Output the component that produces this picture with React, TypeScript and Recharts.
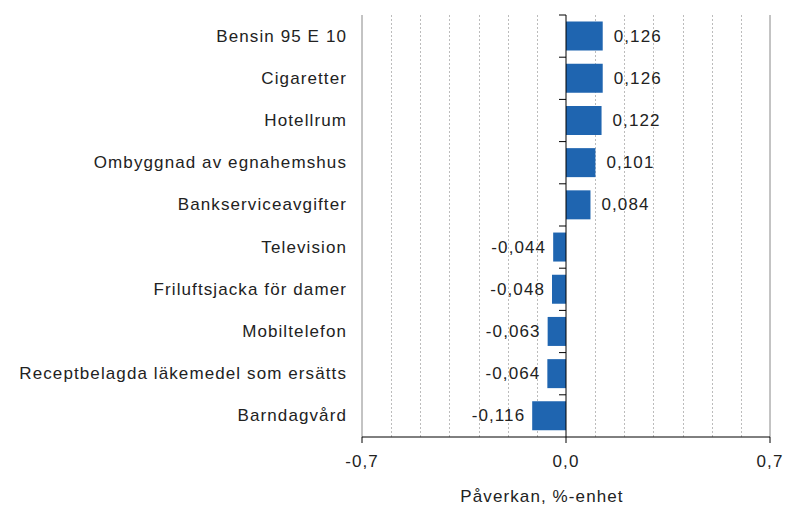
import { BarChart, Bar, XAxis, YAxis, CartesianGrid, ReferenceLine, LabelList } from 'recharts'

const categories = [
  'Bensin 95 E 10',
  'Cigaretter',
  'Hotellrum',
  'Ombyggnad av egnahemshus',
  'Bankserviceavgifter',
  'Television',
  'Friluftsjacka för damer',
  'Mobiltelefon',
  'Receptbelagda läkemedel som ersätts',
  'Barndagvård',
]
const values = [0.126, 0.126, 0.122, 0.101, 0.084, -0.044, -0.048, -0.063, -0.064, -0.116]
const xTicks = [-0.7, 0, 0.7]
const gridValues = [-0.6, -0.5, -0.4, -0.3, -0.2, -0.1, 0.1, 0.2, 0.3, 0.4, 0.5, 0.6]
const X_MIN = -0.7
const X_MAX = 0.7

const W = 788
const H = 506
const MARGIN = { top: 15, right: 18, bottom: 0, left: 0 }
const Y_WIDTH = 362
const X_HEIGHT = 69
const PLOT_W = W - MARGIN.left - MARGIN.right - Y_WIDTH
const PLOT_H = H - MARGIN.top - MARGIN.bottom - X_HEIGHT
const ZERO_X = MARGIN.left + Y_WIDTH + PLOT_W / 2
const BAND = PLOT_H / categories.length

const FONT = '"Liberation Sans", Arial, sans-serif'
const FS = 17
const LS = 1.1
const TEXT = '#222'
const BLUE = '#1f65b0'

const data = categories.map((name, i) => ({ name, value: values[i] }))

const fmt = (v: number, digits: number) => v.toFixed(digits).replace('.', ',')

// grid every 0.1, snapped to whole pixels so the dotted lines stay crisp
const gridCoords = ({ offset }: any) => {
  const left = offset?.left ?? MARGIN.left + Y_WIDTH
  const w = offset?.width ?? PLOT_W
  return gridValues.map((v) => Math.round(left + ((v - X_MIN) / (X_MAX - X_MIN)) * w) + 0.5)
}

function CategoryTick({ x, y, payload }: any) {
  return (
    <g>
      <text
        x={x - 7}
        y={y}
        textAnchor="end"
        dominantBaseline="central"
        fontSize={FS}
        letterSpacing={LS}
        fill={TEXT}
        fontFamily={FONT}
      >
        {payload.value}
      </text>
      <line x1={ZERO_X - 7} x2={ZERO_X} y1={y - BAND / 2} y2={y - BAND / 2} stroke="#000" strokeWidth={1} />
    </g>
  )
}

function ValueLabel({ x, y, width, height, value }: any) {
  const neg = value < 0
  const end = neg ? Math.min(x, x + width) : Math.max(x, x + width)
  return (
    <text
      x={neg ? end - 7 : end + 11}
      y={y + height / 2}
      textAnchor={neg ? 'end' : 'start'}
      dominantBaseline="central"
      fontSize={FS}
      letterSpacing={LS}
      fill={TEXT}
      fontFamily={FONT}
    >
      {fmt(value, 3)}
    </text>
  )
}

export default function App() {
  return (
    <div style={{ width: W, height: H, background: '#fff' }}>
      <style>{`body { margin: 0; }`}</style>
      <BarChart width={W} height={H} data={data} layout="vertical" margin={MARGIN} barCategoryGap="15.5%">
        <CartesianGrid
          horizontal={false}
          verticalCoordinatesGenerator={gridCoords}
          stroke="#bcbcbc"
          strokeDasharray="2 2"
        />
        <ReferenceLine x={X_MIN} stroke="#888" />
        <ReferenceLine x={X_MAX} stroke="#888" />
        <XAxis
          type="number"
          domain={[X_MIN, X_MAX]}
          ticks={xTicks}
          tickFormatter={(v: number) => fmt(v, 1)}
          height={X_HEIGHT}
          tickSize={6}
          tickMargin={12}
          stroke="#000"
          tick={{ fill: TEXT, fontSize: FS, fontFamily: FONT, letterSpacing: LS }}
          label={{
            value: 'Påverkan, %-enhet',
            position: 'insideBottom',
            offset: 4,
            dx: -24,
            fill: TEXT,
            fontSize: FS,
            fontFamily: FONT,
            letterSpacing: LS,
          }}
        />
        <YAxis
          type="category"
          dataKey="name"
          width={Y_WIDTH}
          axisLine={false}
          tickLine={false}
          interval={0}
          tick={<CategoryTick />}
        />
        <ReferenceLine x={0} stroke="#000" />
        <Bar dataKey="value" fill={BLUE} isAnimationActive={false}>
          <LabelList dataKey="value" content={<ValueLabel />} />
        </Bar>
      </BarChart>
    </div>
  )
}
